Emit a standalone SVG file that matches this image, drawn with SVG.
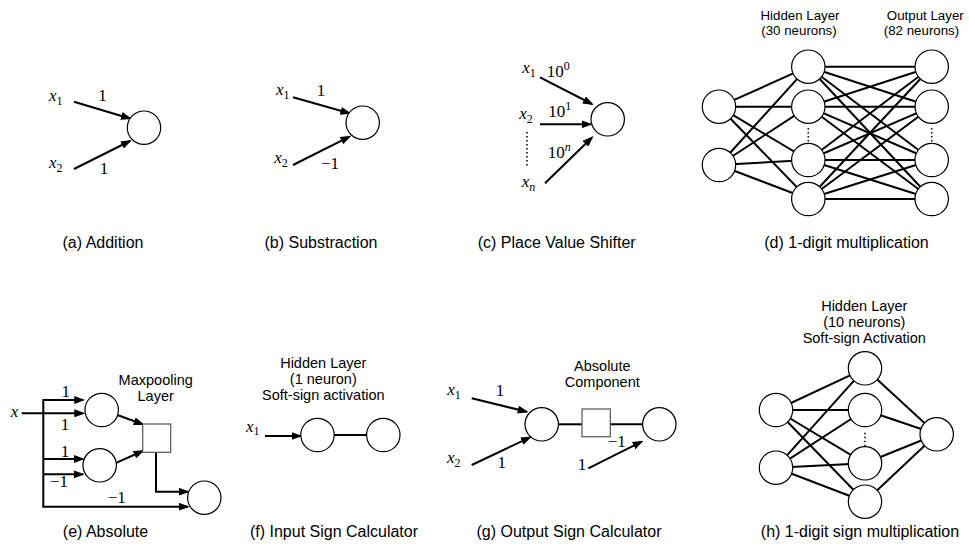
<svg xmlns="http://www.w3.org/2000/svg" width="969" height="546" viewBox="0 0 969 546">
<defs>
<style>
.lbl{font-family:"Liberation Sans",Arial,sans-serif;font-size:14.5px;text-anchor:middle;fill:#000}
.sm{font-size:13.3px}
.cap{font-family:"Liberation Sans",Arial,sans-serif;font-size:16px;text-anchor:middle;fill:#000}
.m{font-family:"Liberation Serif","Times New Roman",serif;font-size:17px;fill:#000}
.mc{text-anchor:middle}
.i{font-style:italic}
.n{fill:#fff;stroke:#000;stroke-width:1.2}
.e{stroke:#000;stroke-width:2;fill:none}
.a{marker-end:url(#ah)}
.sq{fill:#fff;stroke:#555;stroke-width:1.2}
.dot{stroke:#000;stroke-width:1.5;stroke-dasharray:1.5 2.5;fill:none}
</style>
<marker id="ah" markerWidth="11" markerHeight="8" refX="9" refY="4" orient="auto" markerUnits="userSpaceOnUse"><path d="M0,0 L11,4 L0,8 z" fill="#000"/></marker>
</defs>
<rect width="969" height="546" fill="#fff"/>

<g id="connectors">
<!-- (a) -->
<line class="e a" x1="74" y1="101.7" x2="130" y2="118.5"/>
<line class="e a" x1="74" y1="169" x2="130" y2="141"/>
<!-- (b) -->
<line class="e a" x1="293" y1="97.3" x2="349.5" y2="113.3"/>
<line class="e a" x1="293" y1="165" x2="349.5" y2="136.7"/>
<!-- (c) -->
<line class="e a" x1="540" y1="77.3" x2="592" y2="104"/>
<line class="e a" x1="540" y1="124.3" x2="590.5" y2="124.3"/>
<line class="e a" x1="545" y1="183.3" x2="592" y2="137.5"/>
<line class="dot" x1="527" y1="132" x2="527" y2="168"/>
<!-- (d) input->hidden -->
<line class="e" x1="719" y1="106.7" x2="808.3" y2="66.7"/>
<line class="e" x1="719" y1="106.7" x2="808.3" y2="106.7"/>
<line class="e" x1="719" y1="106.7" x2="808.3" y2="160"/>
<line class="e" x1="719" y1="106.7" x2="808.3" y2="199"/>
<line class="e" x1="719" y1="165" x2="808.3" y2="66.7"/>
<line class="e" x1="719" y1="165" x2="808.3" y2="106.7"/>
<line class="e" x1="719" y1="165" x2="808.3" y2="160"/>
<line class="e" x1="719" y1="165" x2="808.3" y2="199"/>
<!-- (d) hidden->output -->
<line class="e" x1="808.3" y1="66.7" x2="931.7" y2="66.7"/>
<line class="e" x1="808.3" y1="66.7" x2="931.7" y2="106.7"/>
<line class="e" x1="808.3" y1="66.7" x2="931.7" y2="160"/>
<line class="e" x1="808.3" y1="66.7" x2="931.7" y2="199"/>
<line class="e" x1="808.3" y1="106.7" x2="931.7" y2="66.7"/>
<line class="e" x1="808.3" y1="106.7" x2="931.7" y2="106.7"/>
<line class="e" x1="808.3" y1="106.7" x2="931.7" y2="160"/>
<line class="e" x1="808.3" y1="106.7" x2="931.7" y2="199"/>
<line class="e" x1="808.3" y1="160" x2="931.7" y2="66.7"/>
<line class="e" x1="808.3" y1="160" x2="931.7" y2="106.7"/>
<line class="e" x1="808.3" y1="160" x2="931.7" y2="160"/>
<line class="e" x1="808.3" y1="160" x2="931.7" y2="199"/>
<line class="e" x1="808.3" y1="199" x2="931.7" y2="66.7"/>
<line class="e" x1="808.3" y1="199" x2="931.7" y2="106.7"/>
<line class="e" x1="808.3" y1="199" x2="931.7" y2="160"/>
<line class="e" x1="808.3" y1="199" x2="931.7" y2="199"/>
<line class="dot" x1="808.3" y1="128" x2="808.3" y2="150"/>
<line class="dot" x1="931.7" y1="128" x2="931.7" y2="150"/>
<!-- (e) -->
<line class="e a" x1="21.7" y1="413.3" x2="83.3" y2="413.3"/>
<polyline class="e" points="83,400 43.3,400 43.3,506.7"/>
<line class="e a" x1="43.3" y1="400" x2="83.3" y2="400"/>
<line class="e a" x1="43.3" y1="459" x2="82.7" y2="459"/>
<line class="e a" x1="43.3" y1="474.3" x2="82.7" y2="474.3"/>
<line class="e a" x1="42.3" y1="506.7" x2="187.7" y2="506.7"/>
<polyline class="e a" points="156,452.3 156,491.7 187.7,491.7"/>
<line class="e a" x1="117.3" y1="415" x2="142.7" y2="424.3"/>
<line class="e a" x1="116.7" y1="462.7" x2="142.7" y2="451"/>
<!-- (f) -->
<line class="e a" x1="265" y1="436" x2="300.5" y2="436"/>
<line class="e" x1="334" y1="435" x2="366.7" y2="435"/>
<!-- (g) -->
<line class="e a" x1="471.7" y1="398.3" x2="526.7" y2="411.7"/>
<line class="e a" x1="471.7" y1="465" x2="530" y2="437.3"/>
<line class="e" x1="558.3" y1="424.3" x2="582" y2="424.3"/>
<line class="e" x1="610.3" y1="424.3" x2="642.7" y2="424.3"/>
<line class="e a" x1="588.3" y1="468.3" x2="641.7" y2="441.7"/>
<!-- (h) -->
<line class="e" x1="776" y1="410" x2="865" y2="368.3"/>
<line class="e" x1="776" y1="410" x2="865" y2="410"/>
<line class="e" x1="776" y1="410" x2="865" y2="463.3"/>
<line class="e" x1="776" y1="410" x2="865" y2="501.7"/>
<line class="e" x1="776" y1="467.7" x2="865" y2="368.3"/>
<line class="e" x1="776" y1="467.7" x2="865" y2="410"/>
<line class="e" x1="776" y1="467.7" x2="865" y2="463.3"/>
<line class="e" x1="776" y1="467.7" x2="865" y2="501.7"/>
<line class="e" x1="865" y1="368.3" x2="936.7" y2="434.3"/>
<line class="e" x1="865" y1="410" x2="936.7" y2="434.3"/>
<line class="e" x1="865" y1="463.3" x2="936.7" y2="434.3"/>
<line class="e" x1="865" y1="501.7" x2="936.7" y2="434.3"/>
<line class="dot" x1="865" y1="432.7" x2="865" y2="450"/>
</g>

<!-- (a) Addition -->
<g id="a-addition">
<circle class="n" cx="144" cy="127.7" r="16.7"/>
<text class="m" x="49" y="101"><tspan class="i">x</tspan><tspan font-size="12" dy="4">1</tspan></text>
<text class="m" x="49" y="168"><tspan class="i">x</tspan><tspan font-size="12" dy="4">2</tspan></text>
<text class="m mc" x="102.5" y="101">1</text>
<text class="m mc" x="104" y="174">1</text>
<text class="cap" x="103" y="248">(a) Addition</text>
</g>

<!-- (b) Substraction -->
<g id="b-substraction">
<circle class="n" cx="362.7" cy="122.7" r="16.7"/>
<text class="m" x="276" y="95"><tspan class="i">x</tspan><tspan font-size="12" dy="4">1</tspan></text>
<text class="m" x="274.3" y="163.3"><tspan class="i">x</tspan><tspan font-size="12" dy="4">2</tspan></text>
<text class="m mc" x="321" y="95.7">1</text>
<text class="m" x="321" y="169">−1</text>
<text class="cap" x="321" y="248">(b) Substraction</text>
</g>

<!-- (c) Place Value Shifter -->
<g id="c-shifter">
<circle class="n" cx="607.7" cy="119.3" r="16.7"/>
<text class="m" x="522.3" y="73.3"><tspan class="i">x</tspan><tspan font-size="12" dy="4">1</tspan></text>
<text class="m" x="519.3" y="119"><tspan class="i">x</tspan><tspan font-size="12" dy="4">2</tspan></text>
<text class="m" x="521.7" y="187"><tspan class="i">x</tspan><tspan font-size="12" dy="4" class="i">n</tspan></text>
<text class="m" x="546.7" y="76.7">10<tspan font-size="12" dy="-7">0</tspan></text>
<text class="m" x="548.3" y="116.7">10<tspan font-size="12" dy="-7">1</tspan></text>
<text class="m" x="547.7" y="158.3">10<tspan font-size="12" dy="-7" class="i">n</tspan></text>
<text class="cap" x="556.7" y="248">(c) Place Value Shifter</text>
</g>

<!-- (d) 1-digit multiplication -->
<g id="d-mult">
<circle class="n" cx="719" cy="106.7" r="16.7"/>
<circle class="n" cx="719" cy="165" r="16.7"/>
<circle class="n" cx="808.3" cy="66.7" r="16.7"/>
<circle class="n" cx="808.3" cy="106.7" r="16.7"/>
<circle class="n" cx="808.3" cy="160" r="16.7"/>
<circle class="n" cx="808.3" cy="199" r="16.7"/>
<circle class="n" cx="931.7" cy="66.7" r="16.7"/>
<circle class="n" cx="931.7" cy="106.7" r="16.7"/>
<circle class="n" cx="931.7" cy="160" r="16.7"/>
<circle class="n" cx="931.7" cy="199" r="16.7"/>
<text class="lbl sm" x="800" y="19.5">Hidden Layer</text>
<text class="lbl sm" x="799" y="34.5">(30 neurons)</text>
<text class="lbl sm" x="925.3" y="19.5">Output Layer</text>
<text class="lbl sm" x="921.5" y="34.5">(82 neurons)</text>
<text class="cap" x="846.5" y="248">(d) 1-digit multiplication</text>
</g>

<!-- (e) Absolute -->
<g id="e-absolute">
<circle class="n" cx="101.7" cy="410" r="16.7"/>
<circle class="n" cx="99.7" cy="465.3" r="16.7"/>
<circle class="n" cx="204.3" cy="497.7" r="16.7"/>
<rect class="sq" x="142.7" y="424" width="28" height="28.3"/>
<text class="m i" x="10.7" y="417">x</text>
<text class="m mc" x="65.7" y="396.7">1</text>
<text class="m mc" x="65" y="430">1</text>
<text class="m mc" x="65" y="456.7">1</text>
<text class="m mc" x="59" y="487.3">−1</text>
<text class="m mc" x="116.7" y="502.7">−1</text>
<text class="lbl" x="155.7" y="385">Maxpooling</text>
<text class="lbl" x="155.7" y="401">Layer</text>
<text class="cap" x="105.5" y="537">(e) Absolute</text>
</g>

<!-- (f) Input Sign Calculator -->
<g id="f-input-sign">
<circle class="n" cx="317.5" cy="435" r="16.7"/>
<circle class="n" cx="383.3" cy="435" r="16.7"/>
<text class="m" x="246" y="431.7"><tspan class="i">x</tspan><tspan font-size="12" dy="3">1</tspan></text>
<text class="lbl" x="323.3" y="368.3">Hidden Layer</text>
<text class="lbl" x="323.3" y="384.3">(1 neuron)</text>
<text class="lbl" x="323.3" y="400.3">Soft-sign activation</text>
<text class="cap" x="334" y="537">(f) Input Sign Calculator</text>
</g>

<!-- (g) Output Sign Calculator -->
<g id="g-output-sign">
<circle class="n" cx="541.7" cy="424.3" r="16.7"/>
<rect class="sq" x="582" y="409" width="28.3" height="27.7"/>
<circle class="n" cx="659.3" cy="424.3" r="16.7"/>
<text class="m" x="447.3" y="395"><tspan class="i">x</tspan><tspan font-size="12" dy="4">1</tspan></text>
<text class="m" x="447" y="463.3"><tspan class="i">x</tspan><tspan font-size="12" dy="4">2</tspan></text>
<text class="m mc" x="500" y="395.7">1</text>
<text class="m mc" x="501.7" y="468.3">1</text>
<text class="m mc" x="616.7" y="447.3">−1</text>
<text class="m mc" x="582" y="470">1</text>
<text class="lbl" x="602.3" y="370.5">Absolute</text>
<text class="lbl" x="602.3" y="386.5">Component</text>
<text class="cap" x="569" y="537">(g) Output Sign Calculator</text>
</g>

<!-- (h) 1-digit sign multiplication -->
<g id="h-sign-mult">
<circle class="n" cx="776" cy="410" r="16.7"/>
<circle class="n" cx="776" cy="467.7" r="16.7"/>
<circle class="n" cx="865" cy="368.3" r="16.7"/>
<circle class="n" cx="865" cy="410" r="16.7"/>
<circle class="n" cx="865" cy="463.3" r="16.7"/>
<circle class="n" cx="865" cy="501.7" r="16.7"/>
<circle class="n" cx="936.7" cy="434.3" r="16.7"/>
<text class="lbl" x="864.3" y="311">Hidden Layer</text>
<text class="lbl" x="864.3" y="327">(10 neurons)</text>
<text class="lbl" x="864.3" y="343">Soft-sign Activation</text>
<text class="cap" x="860" y="537">(h) 1-digit sign multiplication</text>
</g>
</svg>
